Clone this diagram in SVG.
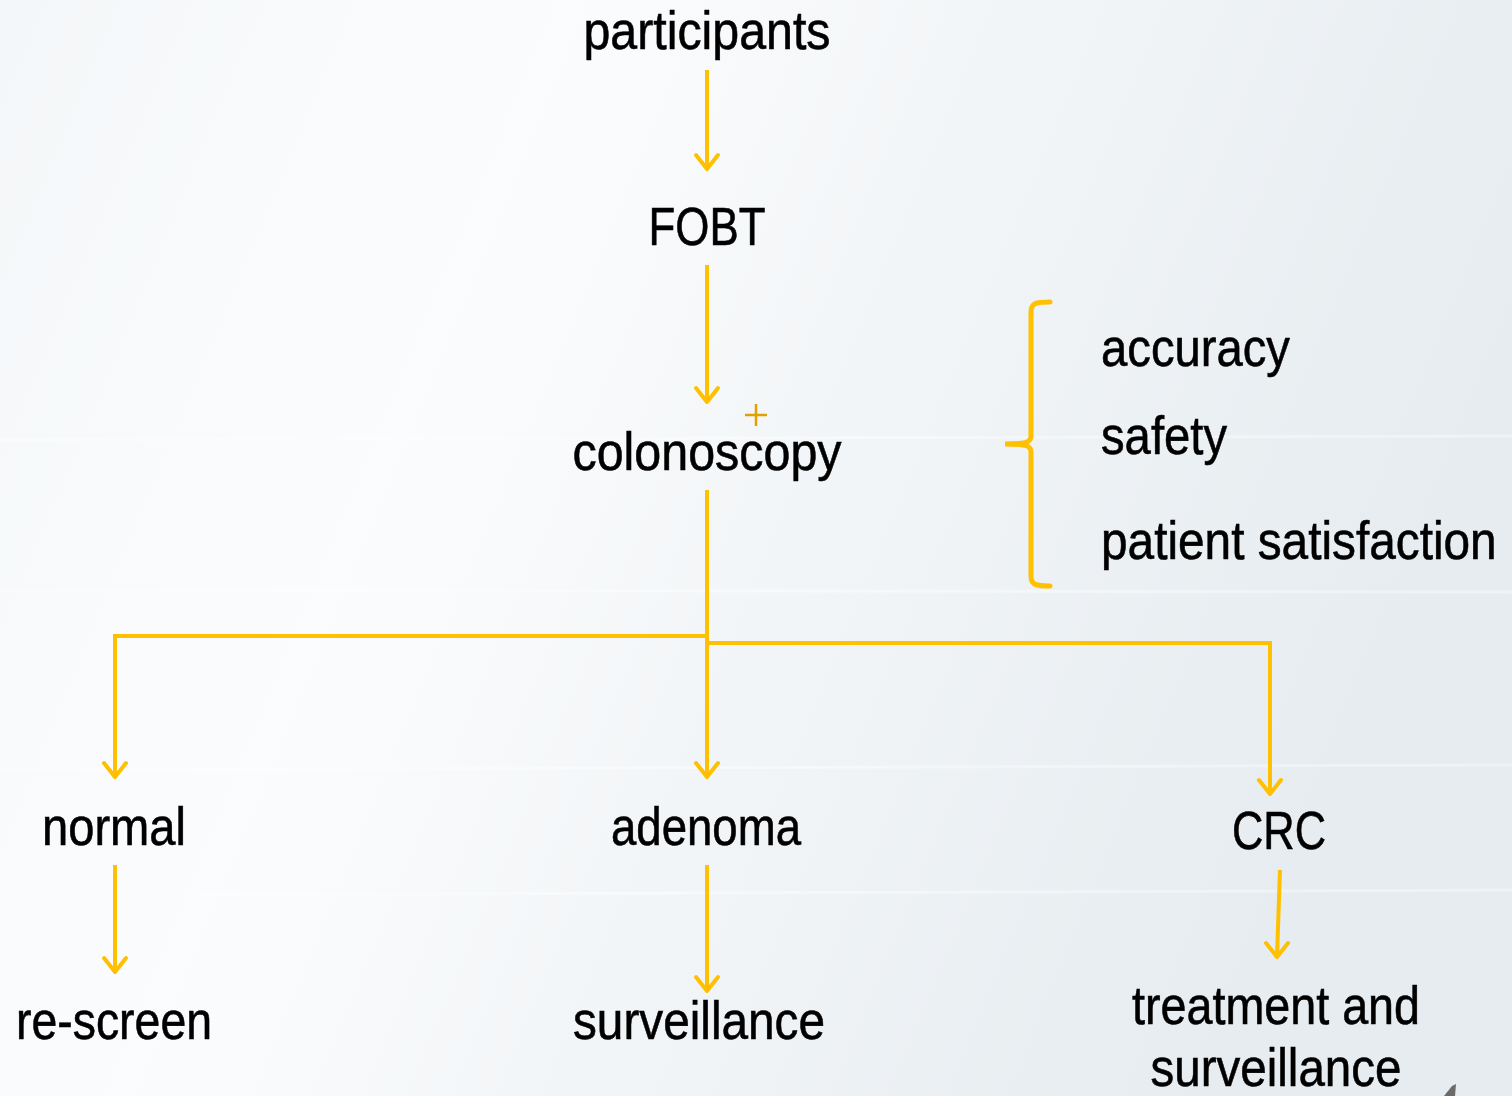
<svg xmlns="http://www.w3.org/2000/svg" width="1512" height="1096" viewBox="0 0 1512 1096">
<defs>
<linearGradient id="bg" x1="0" y1="0" x2="1" y2="0.3">
<stop offset="0" stop-color="#f4f7f9"/>
<stop offset="0.35" stop-color="#fbfcfd"/>
<stop offset="1" stop-color="#e6ecf0"/>
</linearGradient>
<style>
.t{font-family:"Liberation Sans",Arial,sans-serif;font-size:54px;fill:#000;stroke:#000;stroke-width:0.6}
.c{fill:none;stroke:#FFC000;stroke-width:4}
.h{fill:none;stroke:#FFC000;stroke-width:4;stroke-linecap:round;stroke-linejoin:round}
</style>
</defs>
<rect width="1512" height="1096" fill="url(#bg)"/>
<g opacity="0.4" stroke="#ffffff" stroke-width="3">
<line x1="0" y1="440" x2="1512" y2="436"/>
<line x1="0" y1="590" x2="1512" y2="592"/>
<line x1="0" y1="770" x2="1512" y2="765"/>
<line x1="200" y1="895" x2="1512" y2="890"/>
</g>
<g id="connectors">
<path class="c" d="M707,70 V168"/>
<path class="c" d="M707,265 V401"/>
<path class="c" d="M707,490 V776"/>
<path class="c" d="M707,636 H115 V776"/>
<path class="c" d="M707,643 H1270 V793"/>
<path class="c" d="M115,865 V971"/>
<path class="c" d="M707,865 V990"/>
<path class="c" d="M1280,870 L1277,956"/>
<g class="h">
<path d="M696,155 L707,169 L718,155"/>
<path d="M696,388 L707,402 L718,388"/>
<path d="M104,763 L115,777 L126,763"/>
<path d="M696,763 L707,777 L718,763"/>
<path d="M1259,780 L1270,794 L1281,780"/>
<path d="M104,958 L115,972 L126,958"/>
<path d="M696,977 L707,991 L718,977"/>
<path d="M1266,943 L1277,957 L1288,943"/>
</g>
<path d="M1050,302 C1036,302 1031,303 1031,312 V436 C1031,442 1027,444 1005,444 C1027,444 1031,446 1031,452 V576 C1031,585 1036,586 1050,586" fill="none" stroke="#FFC000" stroke-width="5" stroke-linecap="round"/>
<path d="M745,415 H767 M756,404 V426" stroke="#E0A200" stroke-width="2.5"/>
</g>
<g id="n-participants"><text class="t" x="707" y="49" text-anchor="middle" textLength="247" lengthAdjust="spacingAndGlyphs">participants</text></g>
<g id="n-fobt"><text class="t" x="707" y="245" text-anchor="middle" textLength="117" lengthAdjust="spacingAndGlyphs">FOBT</text></g>
<g id="n-colonoscopy"><text class="t" x="707" y="470" text-anchor="middle" textLength="269" lengthAdjust="spacingAndGlyphs">colonoscopy</text></g>
<g id="n-accuracy"><text class="t" x="1101" y="366" textLength="189" lengthAdjust="spacingAndGlyphs">accuracy</text></g>
<g id="n-safety"><text class="t" x="1101" y="454" textLength="126" lengthAdjust="spacingAndGlyphs">safety</text></g>
<g id="n-satisfaction"><text class="t" transform="translate(1101,559) scale(0.885,1)">patient satisfaction</text></g>
<g id="n-normal"><text class="t" x="114" y="845" text-anchor="middle" textLength="144" lengthAdjust="spacingAndGlyphs">normal</text></g>
<g id="n-adenoma"><text class="t" x="706" y="845" text-anchor="middle" textLength="190" lengthAdjust="spacingAndGlyphs">adenoma</text></g>
<g id="n-crc"><text class="t" x="1279" y="849" text-anchor="middle" textLength="94" lengthAdjust="spacingAndGlyphs">CRC</text></g>
<g id="n-rescreen"><text class="t" x="114" y="1039" text-anchor="middle" textLength="196" lengthAdjust="spacingAndGlyphs">re-screen</text></g>
<g id="n-surveillance"><text class="t" x="699" y="1039" text-anchor="middle" textLength="252" lengthAdjust="spacingAndGlyphs">surveillance</text></g>
<g id="n-treatment"><text class="t" x="1276" y="1024" text-anchor="middle" textLength="288" lengthAdjust="spacingAndGlyphs">treatment and</text><text class="t" x="1276" y="1086" text-anchor="middle" textLength="251" lengthAdjust="spacingAndGlyphs">surveillance</text></g>
<path d="M1444,1096 L1452,1086 L1456,1084 L1455,1096 Z" fill="#6b6b6b"/>
</svg>
